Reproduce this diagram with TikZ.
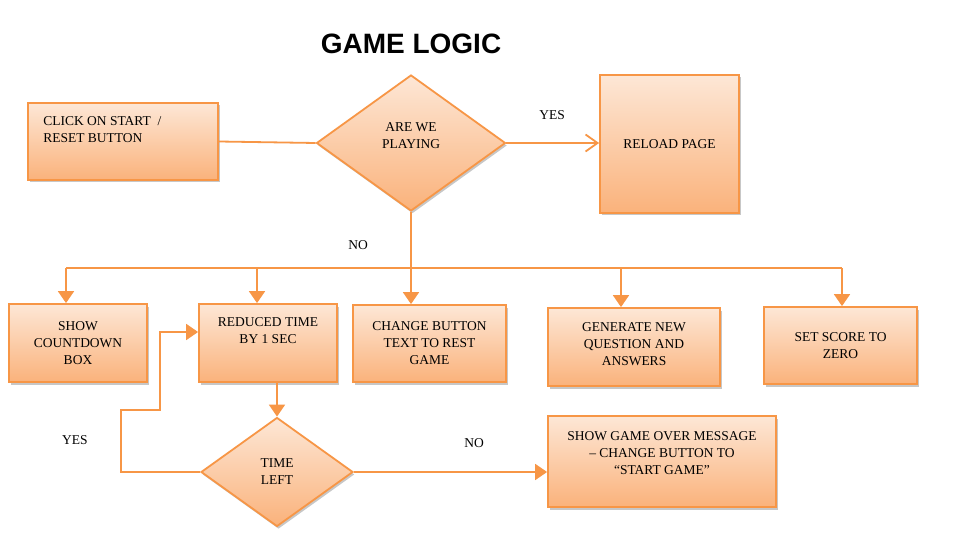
\documentclass[tikz,border=0pt]{standalone}
\usepackage{fontspec}
\setmainfont{Liberation Serif}
\newfontfamily\titlefont{Liberation Sans}
\usetikzlibrary{shapes.geometric,arrows.meta,shadows}
\definecolor{obord}{HTML}{F79646}
\definecolor{otop}{HTML}{FDE7D6}
\definecolor{obot}{HTML}{FAB27B}
\begin{document}
\begin{tikzpicture}[x=1pt,y=-1pt,
  txt/.style={font=\fontsize{13.5}{17}\selectfont, align=center, inner sep=0pt},
  box/.style={draw=obord, line width=1.8pt, top color=otop, bottom color=obot,
    drop shadow={shadow xshift=1.5pt, shadow yshift=-2.5pt, fill=black, opacity=0.22},
    inner sep=0pt, txt},
  dia/.style={box, diamond},
  line/.style={draw=obord, line width=1.8pt},
  arr/.style={line, -{Triangle[width=16pt,length=12pt]}},
  openarr/.style={line, -{Straight Barb[width=17pt,length=12pt,line width=1.8pt]}},
  lbl/.style={font=\fontsize{13.5}{17}\selectfont, inner sep=0pt}]
\useasboundingbox (0,0) rectangle (965,537);
\fill[white] (0,0) rectangle (965,537);

\node[font=\titlefont\bfseries\fontsize{28}{30}\selectfont, inner sep=0pt] (title) at (411,44) {GAME LOGIC};

\node[box, minimum width=190pt, minimum height=77pt,
  label={[txt, align=left, anchor=west, xshift=16pt, yshift=11.5pt]west:{CLICK ON START \ /\\RESET BUTTON}}] (start) at (123,141.5) {};
\node[dia, minimum width=189pt, minimum height=136pt,
  label={[txt, yshift=7pt]center:{ARE WE\\PLAYING}}] (play) at (411,143) {};
\node[box, minimum width=139pt, minimum height=138pt] (reload) at (669.5,144) {RELOAD PAGE};

\node[box, minimum width=138pt, minimum height=78pt] (cd) at (78,343) {SHOW\\COUNTDOWN\\BOX};
\node[box, minimum width=138pt, minimum height=78pt,
  label={[txt, yshift=12pt]center:{REDUCED TIME\\BY 1 SEC}}] (red) at (268,343) {};
\node[box, minimum width=153pt, minimum height=77pt] (chg) at (429.5,343.5) {CHANGE BUTTON\\TEXT TO REST\\GAME};
\node[box, minimum width=172pt, minimum height=78pt,
  label={[txt, yshift=3pt]center:{GENERATE NEW\\QUESTION AND\\ANSWERS}}] (gen) at (634,347) {};
\node[box, minimum width=153pt, minimum height=77pt] (score) at (840.5,345.5) {SET SCORE TO\\ZERO};

\node[dia, minimum width=152pt, minimum height=109pt] (tl) at (277,472) {TIME\\LEFT};
\node[box, minimum width=228pt, minimum height=91pt,
  label={[txt, yshift=8.5pt]center:{SHOW GAME OVER MESSAGE\\– CHANGE BUTTON TO\\“START GAME”}}] (go) at (662,461.5) {};

\coordinate (b1) at (66,268);
\coordinate (b2) at (257,268);
\coordinate (b4) at (621,268);
\coordinate (b5) at (842,268);
\coordinate (l1) at (121,410);
\coordinate (l2) at (160,332);

\draw[line] (start.east) -- (play.west);
\draw[openarr] (play.east) -- (reload.west |- play.east);
\draw[line] (b1) -- (b5);
\draw[arr] (play.south) -- (play.south |- chg.north);
\draw[arr] (b1) -- (b1 |- cd.north);
\draw[arr] (b2) -- (b2 |- red.north);
\draw[arr] (b4) -- (b4 |- gen.north);
\draw[arr] (b5) -- (b5 |- score.north);
\draw[arr] (red.south -| tl.north) -- (tl.north);
\draw[arr] (tl.east) -- (tl.east -| go.west);
\draw[arr] (tl.west) -| (l1) -| (l2) -- (l2 -| red.west);

\node[lbl] (yes1) at (552,115) {YES};
\node[lbl] (no1) at (358,245) {NO};
\node[lbl] (yes2) at (75,440) {YES};
\node[lbl] (no2) at (474,443) {NO};
\end{tikzpicture}
\end{document}
